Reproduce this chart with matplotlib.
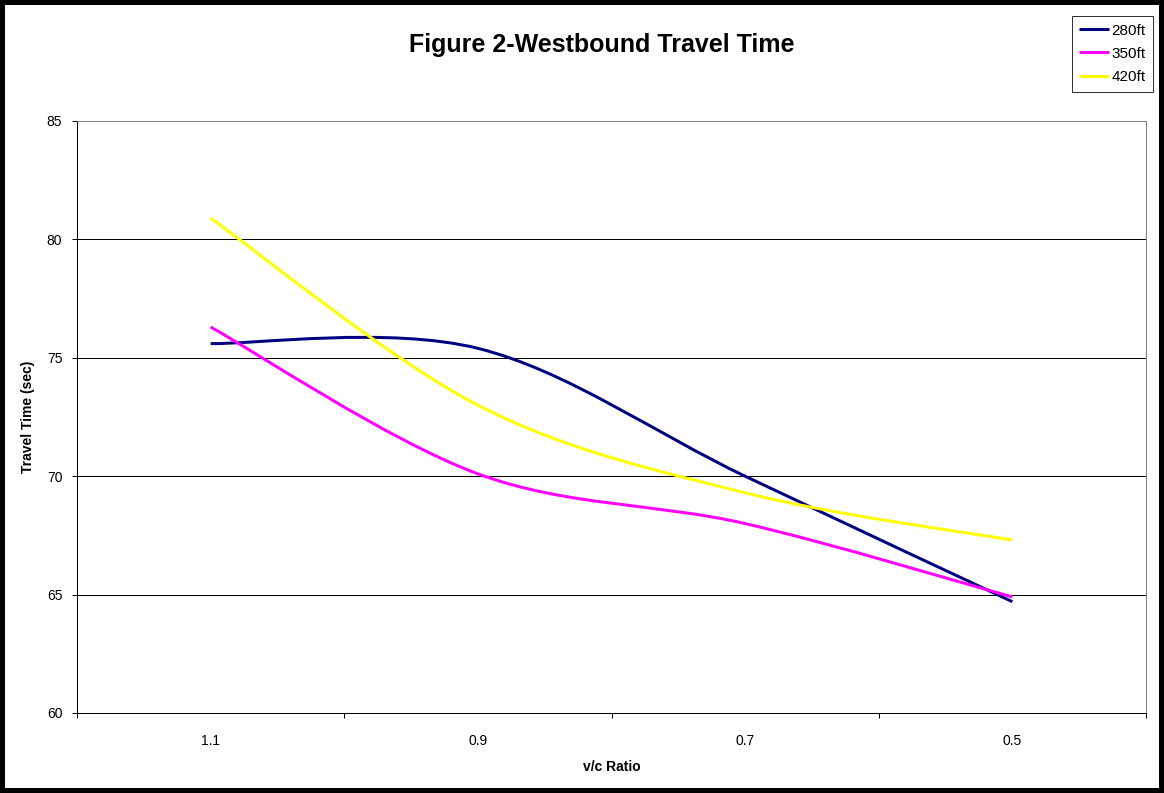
import matplotlib
matplotlib.use("Agg")
import matplotlib.pyplot as plt
import numpy as np
from matplotlib.path import Path
from matplotlib.patches import PathPatch, Rectangle
from matplotlib.lines import Line2D

plt.rcParams['font.family'] = ['Liberation Sans', 'DejaVu Sans']

# travel times (sec) per v/c ratio, one list per spacing
vc_ratio = ['1.1', '0.9', '0.7', '0.5']
tt_280 = [75.6, 75.4, 70.0, 64.7]
tt_350 = [76.3, 70.1, 68.0, 64.9]
tt_420 = [80.9, 73.0, 69.3, 67.3]
series_names = ['280ft', '350ft', '420ft']
series_colors = ['#000080', '#FF00FF', '#FFFF00']


def smooth_path(xs, ys):
    # Bezier through the points, tangents from neighbours (Catmull-Rom)
    pts = np.column_stack([xs, ys]).astype(float)
    pad = np.vstack([pts[0], pts, pts[-1]])
    verts = [pts[0]]
    codes = [Path.MOVETO]
    for i in range(len(pts) - 1):
        p0, p1, p2, p3 = pad[i], pad[i + 1], pad[i + 2], pad[i + 3]
        verts += [p1 + (p2 - p0) / 6, p2 - (p3 - p1) / 6, p2]
        codes += [Path.CURVE4] * 3
    return Path(verts, codes)


W, H = 1164, 793
fig = plt.figure(figsize=(W / 100, H / 100), dpi=100)
px = 72 / 100  # points per pixel

left, right, top, bottom = 77, 1146, 121, 713
ax = fig.add_axes([left / W, 1 - bottom / H, (right - left) / W, (bottom - top) / H])

x = np.arange(len(vc_ratio))
for ys, name, col in zip([tt_280, tt_350, tt_420], series_names, series_colors):
    ax.add_patch(PathPatch(smooth_path(x, ys), fill=False, edgecolor=col,
                           lw=3 * px, capstyle='butt', joinstyle='round', zorder=3))

ax.set_xlim(-0.5, len(vc_ratio) - 0.5)
ax.set_ylim(60, 85)
ax.set_yticks(np.arange(60, 86, 5))
ax.yaxis.grid(True, color='black', lw=1 * px)
ax.set_axisbelow(True)

ax.set_xticks(np.arange(-0.5, len(vc_ratio), 1.0))
ax.set_xticklabels([])
ax.set_xticks(x, minor=True)
ax.set_xticklabels(vc_ratio, minor=True)
ax.tick_params(axis='x', which='major', direction='out', length=5 * px, width=1 * px)
ax.tick_params(axis='x', which='minor', length=0, pad=15, labelsize=10)
ax.tick_params(axis='y', direction='out', length=5 * px, width=1 * px, pad=7, labelsize=10)

for side in ['top', 'right']:
    ax.spines[side].set_color('#808080')
for side in ['top', 'right', 'left', 'bottom']:
    ax.spines[side].set_linewidth(1 * px)

fig.text(602 / W, 1 - 45 / H, 'Figure 2-Westbound Travel Time', ha='center', va='center',
         fontsize=18, fontweight='bold')
fig.text((left + right) / 2 / W, 1 - 767 / H, 'v/c Ratio', ha='center', va='center',
         fontsize=10, fontweight='bold')
fig.text(28 / W, 1 - (top + bottom) / 2 / H, 'Travel Time (sec)', ha='center', va='center',
         rotation=90, fontsize=10, fontweight='bold')

handles = [Line2D([], [], color=c, lw=3 * px, solid_capstyle='butt') for c in series_colors]
leg = fig.legend(handles, series_names, loc='upper right',
                 bbox_to_anchor=(1153 / W, 1 - 16 / H), fontsize=11,
                 frameon=True, fancybox=False, shadow=False, borderpad=0.5,
                 handlelength=1.95, handletextpad=0.15, labelspacing=0.6,
                 borderaxespad=0)
leg.get_frame().set_edgecolor('black')
leg.get_frame().set_linewidth(1 * px)

# chart area border
fig.patches.append(Rectangle((0, 0), 1, 1, transform=fig.transFigure, fill=False,
                             edgecolor='black', lw=10 * px))

fig.savefig('out.png', dpi=100)
